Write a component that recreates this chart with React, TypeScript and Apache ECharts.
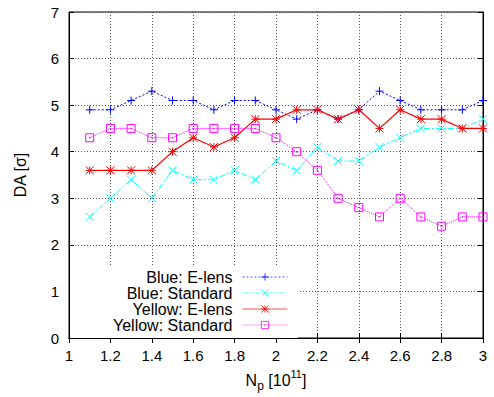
import React, { useEffect, useRef } from "react";
import * as echarts from "echarts";

const xs = [1.1, 1.2, 1.3, 1.4, 1.5, 1.6, 1.7, 1.8, 1.9, 2.0, 2.1, 2.2, 2.3, 2.4, 2.5, 2.6, 2.7, 2.8, 2.9, 3.0];
const blueElens = [4.9, 4.9, 5.1, 5.3, 5.1, 5.1, 4.9, 5.1, 5.1, 4.9, 4.7, 4.9, 4.7, 4.9, 5.3, 5.1, 4.9, 4.9, 4.9, 5.1];
const blueStandard = [2.6, 3.0, 3.4, 3.0, 3.6, 3.4, 3.4, 3.6, 3.4, 3.8, 3.6, 4.1, 3.8, 3.8, 4.1, 4.3, 4.5, 4.5, 4.5, 4.7];
const yellowElens = [3.6, 3.6, 3.6, 3.6, 4.0, 4.3, 4.1, 4.3, 4.7, 4.7, 4.9, 4.9, 4.7, 4.9, 4.5, 4.9, 4.7, 4.7, 4.5, 4.5];
const yellowStandard = [4.3, 4.5, 4.5, 4.3, 4.3, 4.5, 4.5, 4.5, 4.5, 4.3, 4.0, 3.6, 3.0, 2.8, 2.6, 3.0, 2.6, 2.4, 2.6, 2.6];
const seriesNames = ["Blue: E-lens", "Blue: Standard", "Yellow: E-lens", "Yellow: Standard"];
const xTicks = { min: 1, max: 3, interval: 0.2 };
const yTicks = { min: 0, max: 7, interval: 1 };

const FONT = "'Liberation Sans', Arial, Helvetica, sans-serif";

const PLUS = "path://M0,5L10,5M5,0L5,10";
const CROSS = "path://M0,0L10,10M10,0L0,10";
const STAR = "path://M0,0L10,10M10,0L0,10M5,0L5,10M0,5L10,5";
const BOXDOT = "path://M0,0L10,0L10,10L0,10ZM4.6,4.6L5.4,4.6L5.4,5.4L4.6,5.4Z";

export default function App() {
  const ref = useRef<HTMLDivElement>(null);
  useEffect(() => {
    if (!ref.current) return;
    const chart = echarts.init(ref.current, null, { renderer: "svg" });
    const mk = (vals: number[]) => vals.map((v, i) => [xs[i], v]);
    const lineSeries = (
      name: string,
      vals: number[],
      color: string,
      symbol: string,
      dash: any,
      width: number,
      symbolSize: number
    ) => ({
      name,
      type: "line",
      data: mk(vals),
      symbol,
      symbolSize,
      showAllSymbol: true,
      lineStyle: { color, width, type: dash },
      itemStyle: { color: "none", borderColor: color, borderWidth: 1 },
      emphasis: { disabled: true },
    });
    const gridLine = { show: true, lineStyle: { color: "#555", type: [1, 2], width: 1 } };
    const tick = { show: true, inside: true, length: 5, lineStyle: { color: "#000" } };
    const axisLine = { show: true, lineStyle: { color: "#000", width: 1 } };
    chart.setOption({
      animation: false,
      textStyle: { fontFamily: FONT },
      grid: {
        left: 69,
        right: 11,
        top: 12,
        bottom: 58,
        show: true,
        borderColor: "#000",
        borderWidth: 1,
      },
      xAxis: [
        {
          type: "value",
          ...xTicks,
          axisLine,
          axisTick: tick,
          axisLabel: {
            color: "#000",
            fontSize: 15,
            fontFamily: FONT,
            margin: 10,
            formatter: (v: number) => String(Number(v.toFixed(1))),
          },
          splitLine: gridLine,
          name: "{a|N}{sub|p}{a| [10}{sup|11}{a|]}",
          nameLocation: "middle",
          nameGap: 30,
          nameTextStyle: {
            rich: {
              a: { fontSize: 16, fontFamily: FONT, color: "#000", lineHeight: 24 },
              sub: { fontSize: 12, fontFamily: FONT, color: "#000", verticalAlign: "bottom", lineHeight: 24 },
              sup: { fontSize: 11, fontFamily: FONT, color: "#000", verticalAlign: "top", lineHeight: 24 },
            },
          },
        },
        {
          type: "value",
          position: "top",
          ...xTicks,
          axisLine,
          axisTick: tick,
          axisLabel: { show: false },
          splitLine: { show: false },
        },
      ],
      yAxis: [
        {
          type: "value",
          ...yTicks,
          axisLine,
          axisTick: tick,
          axisLabel: { color: "#000", fontSize: 15, fontFamily: FONT, margin: 10 },
          splitLine: gridLine,
          name: "DA [σ]",
          nameLocation: "middle",
          nameGap: 41,
          nameTextStyle: { fontSize: 16, fontFamily: FONT, color: "#000" },
        },
        {
          type: "value",
          position: "right",
          ...yTicks,
          axisLine,
          axisTick: tick,
          axisLabel: { show: false },
          splitLine: { show: false },
        },
      ],
      legend: {
        orient: "vertical",
        left: 70,
        top: 267,
        align: "right",
        itemWidth: 45,
        itemHeight: 9,
        itemGap: 0,
        padding: [2, 10, 5, 43],
        backgroundColor: "#fff",
        data: seriesNames,
        lineStyle: { width: 0.7 },
        itemStyle: { borderWidth: 0.8 },
        textStyle: {
          fontSize: 16,
          fontFamily: FONT,
          color: "#000",
          lineHeight: 16,
          padding: [0, 5, 0, 0],
        },
      },
      series: [
        lineSeries(seriesNames[0], blueElens, "#0000ff", PLUS, [2, 2], 1, 8),
        lineSeries(seriesNames[1], blueStandard, "#00ffff", CROSS, [6, 2, 2, 2], 1, 8),
        lineSeries(seriesNames[2], yellowElens, "#ff0000", STAR, "solid", 1.2, 8),
        lineSeries(seriesNames[3], yellowStandard, "#ff00ff", BOXDOT, [1, 1], 1, 8),
      ],
    });
    return () => chart.dispose();
  }, []);
  return <div ref={ref} style={{ width: 494, height: 397, position: "absolute", left: 0, top: 0 }} />;
}
